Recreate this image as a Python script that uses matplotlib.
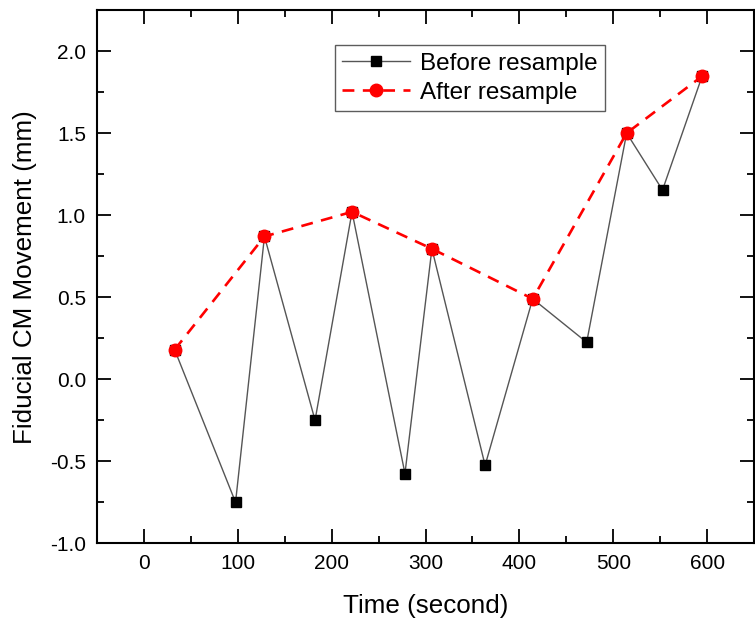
import numpy as np
import matplotlib.pyplot as plt
from matplotlib.ticker import MultipleLocator

plt.rcParams['font.family'] = ['Liberation Sans', 'DejaVu Sans']

# before resample (all samples)
t_before = [32.7, 97.6, 128.4, 182.3, 221.7, 278.1, 306.8, 363.5, 414.2, 471.7, 514.3, 552.5, 594.7]
mv_before = [0.18, -0.75, 0.87, -0.25, 1.02, -0.575, 0.795, -0.525, 0.49, 0.225, 1.50, 1.153, 1.847]

# after resample
t_after = [32.7, 128.4, 221.7, 306.8, 414.2, 514.3, 594.7]
mv_after = [0.18, 0.87, 1.02, 0.795, 0.49, 1.50, 1.847]

fig = plt.figure(figsize=(7.55, 6.27), dpi=100)
ax = fig.add_axes([0.1285, 0.1335, 0.8702, 0.8505])

ax.plot(t_before, mv_before, color='#555555', lw=1.0, marker='s', ms=7,
        mfc='black', mec='black', label='Before resample', zorder=2)
ax.plot(t_after, mv_after, color='red', lw=1.9, ls=(0, (4.5, 3.2)), marker='o', ms=9,
        mfc='red', mec='red', label='After resample', zorder=3)

ax.set_xlim(-50, 650)
ax.set_ylim(-1.0, 2.25)
ax.xaxis.set_major_locator(MultipleLocator(100))
ax.xaxis.set_minor_locator(MultipleLocator(50))
ax.yaxis.set_minor_locator(MultipleLocator(0.25))
ax.tick_params(which='both', direction='in', top=True, right=True, width=1.3,
               labelsize=15, pad=8)
ax.tick_params(which='major', length=10)
ax.tick_params(which='minor', length=5)
ax.set_yticks([-1.0, -0.5, 0.0, 0.5, 1.0, 1.5, 2.0])
ax.set_yticklabels(['-1.0', '-0.5', '0.0', '0.5', '1.0', '1.5', '2.0'])
for s in ax.spines.values():
    s.set_linewidth(1.5)

ax.set_xlabel('Time (second)', fontsize=18.7, labelpad=15)
ax.set_ylabel('Fiducial CM Movement (mm)', fontsize=18.7, labelpad=9)

leg = ax.legend(loc='upper left', bbox_to_anchor=(0.362, 0.934), fontsize=17.5,
                frameon=True, fancybox=False, edgecolor='#333333',
                handlelength=2.8, borderpad=0.3, labelspacing=0.3,
                handletextpad=0.4, borderaxespad=0)
leg.get_frame().set_linewidth(1.0)

plt.savefig('out.png', dpi=100)
